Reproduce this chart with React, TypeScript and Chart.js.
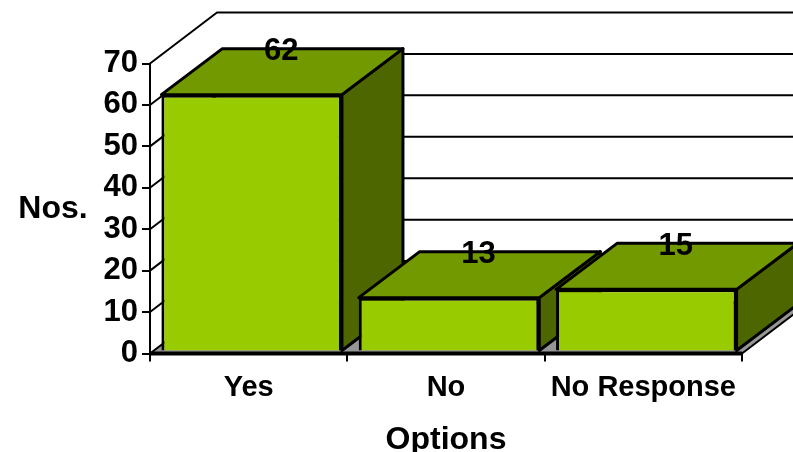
import React, { useEffect, useRef } from "react";
import { Chart, registerables } from "chart.js";

Chart.register(...registerables);

const categories = ["Yes", "No", "No Response"];
const values = [62, 13, 15];
const yMax = 70;
const yStep = 10;
const xTitle = "Options";
const yTitle = "Nos.";

const FONT = '"Liberation Sans", Arial, sans-serif';
const FRONT = "#99cc00";
const TOP = "#739900";
const SIDE = "#4d6600";
const FLOOR = "#969696";
const WALL_DX = 67;
const WALL_DY = 51;
const BAR_DX = 61;
const BAR_DY = 46;
const SHIFT_X = 3;
const SHIFT_Y = -2;

function poly(ctx: CanvasRenderingContext2D, pts: number[][], fill: string | null, lw = 3) {
  ctx.beginPath();
  pts.forEach((p, i) => (i ? ctx.lineTo(p[0], p[1]) : ctx.moveTo(p[0], p[1])));
  ctx.closePath();
  if (fill) {
    ctx.fillStyle = fill;
    ctx.fill();
  }
  if (lw > 0) {
    ctx.lineWidth = lw;
    ctx.strokeStyle = "#000";
    ctx.lineJoin = "round";
    ctx.stroke();
  }
}

const box3d = {
  id: "box3d",
  beforeDatasetsDraw(chart: any) {
    const { ctx, scales } = chart;
    const x = scales.x;
    const y = scales.y;
    const y0 = y.getPixelForValue(0);
    const l = x.left;
    const r = x.right;
    ctx.save();
    // floor
    poly(ctx, [[l, y0], [r, y0], [r + WALL_DX, y0 - WALL_DY], [l + WALL_DX, y0 - WALL_DY]], FLOOR, 2);
    // gridlines on back and side walls
    ctx.strokeStyle = "#000";
    ctx.lineWidth = 2;
    for (let v = yStep; v <= yMax; v += yStep) {
      const py = y.getPixelForValue(v);
      ctx.beginPath();
      ctx.moveTo(l, py);
      ctx.lineTo(l + WALL_DX, py - WALL_DY);
      ctx.lineTo(r + WALL_DX, py - WALL_DY);
      ctx.stroke();
    }
    // side and top faces of the bars
    chart.getDatasetMeta(0).data.forEach((bar: any) => {
      const half = bar.width / 2;
      const xl = bar.x - half + SHIFT_X;
      const xr = bar.x + half + SHIFT_X;
      const yt = bar.y + SHIFT_Y;
      const yb = bar.base + SHIFT_Y;
      poly(ctx, [[xr, yt], [xr + BAR_DX, yt - BAR_DY], [xr + BAR_DX, yb - BAR_DY], [xr, yb]], SIDE);
      poly(ctx, [[xl, yt], [xr, yt], [xr + BAR_DX, yt - BAR_DY], [xl + BAR_DX, yt - BAR_DY]], TOP);
    });
    ctx.restore();
  },
  beforeDatasetDraw(chart: any) {
    chart.ctx.save();
    chart.ctx.translate(SHIFT_X, SHIFT_Y);
  },
  afterDatasetDraw(chart: any) {
    chart.ctx.restore();
  },
  afterDatasetsDraw(chart: any) {
    const { ctx, scales } = chart;
    ctx.save();
    ctx.fillStyle = "#000";
    ctx.font = `bold 31px ${FONT}`;
    ctx.textAlign = "center";
    ctx.textBaseline = "middle";
    chart.getDatasetMeta(0).data.forEach((bar: any, i: number) => {
      ctx.fillText(String(values[i]), bar.x + 32.5, bar.y - 45);
    });
    ctx.font = `bold 32px ${FONT}`;
    ctx.fillText(yTitle, 53, 209);
    ctx.lineWidth = 4;
    ctx.strokeStyle = "#000";
    const y0 = scales.y.getPixelForValue(0);
    ctx.beginPath();
    ctx.moveTo(scales.x.left, y0);
    ctx.lineTo(scales.x.right, y0);
    ctx.stroke();
    ctx.restore();
  },
};

export default function App() {
  const ref = useRef<HTMLCanvasElement>(null);
  useEffect(() => {
    const chart = new Chart(ref.current!, {
      type: "bar",
      data: {
        labels: categories,
        datasets: [
          {
            data: values,
            backgroundColor: FRONT,
            borderColor: "#000",
            borderWidth: 3,
            barPercentage: 0.915,
            categoryPercentage: 1,
            clip: false,
          } as any,
        ],
      },
      plugins: [box3d],
      options: {
        responsive: false,
        animation: false,
        devicePixelRatio: 1,
        layout: { padding: { left: 0, top: 63.5, right: 51, bottom: 0 } },
        plugins: { legend: { display: false }, tooltip: { enabled: false } },
        scales: {
          x: {
            grid: { display: true, drawOnChartArea: false, tickLength: 8, color: "#000", lineWidth: 2 },
            border: { display: true, color: "#000", width: 2 },
            ticks: { color: "#000", font: { family: FONT, size: 29, weight: "bold" }, padding: 9, maxRotation: 0 },
            title: {
              display: true,
              text: xTitle,
              color: "#000",
              font: { family: FONT, size: 32, weight: "bold", lineHeight: 1 },
              padding: { top: 14, bottom: -4 },
            },
            afterFit: (s: any) => {
              s.height = 98.5;
            },
          },
          y: {
            min: 0,
            max: yMax,
            grid: { display: true, drawOnChartArea: false, tickLength: 8, color: "#000", lineWidth: 2 },
            border: { display: true, color: "#000", width: 2 },
            ticks: { stepSize: yStep, color: "#000", font: { family: FONT, size: 31, weight: "bold" }, padding: 4 },
            afterFit: (s: any) => {
              s.width = 150;
            },
          },
        },
      },
    });
    return () => chart.destroy();
  }, []);
  return (
    <canvas
      ref={ref}
      width={793}
      height={452}
      style={{ position: "fixed", left: 0, top: 0, display: "block", background: "#fff" }}
    />
  );
}
